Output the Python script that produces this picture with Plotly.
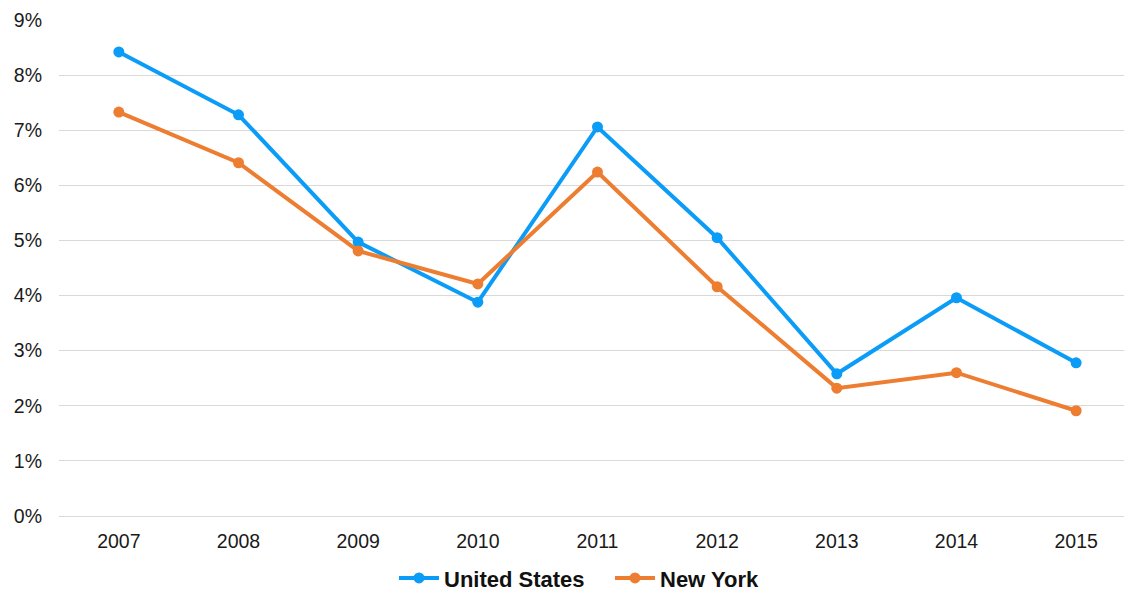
import plotly.graph_objects as go

years = ["2007", "2008", "2009", "2010", "2011", "2012", "2013", "2014", "2015"]
us = [8.42, 7.28, 4.97, 3.88, 7.06, 5.05, 2.58, 3.96, 2.78]
ny = [7.33, 6.41, 4.81, 4.21, 6.24, 4.16, 2.32, 2.60, 1.91]
y_ticks = [0, 1, 2, 3, 4, 5, 6, 7, 8, 9]
y_labels = [f"{v}%" for v in y_ticks]

fig = go.Figure()
fig.add_trace(go.Scatter(x=years, y=us, name="United States", mode="lines+markers",
                         line=dict(color="#0A9CF7", width=4), marker=dict(size=11, color="#0A9CF7"),
                         legend="legend"))
fig.add_trace(go.Scatter(x=years, y=ny, name="New York", mode="lines+markers",
                         line=dict(color="#ED7D31", width=4), marker=dict(size=11, color="#ED7D31"),
                         legend="legend2"))

legend_font = dict(size=22, family="Liberation Sans, Arial", weight="bold", color="#111111")

fig.update_layout(
    width=1124, height=590,
    margin=dict(l=59, r=0, t=20, b=74, autoexpand=False),
    plot_bgcolor="white", paper_bgcolor="white",
    font=dict(family="Liberation Sans, Arial", size=19.5, color="#1A1A1A"),
    xaxis=dict(type="category", range=[-0.5, 8.4], showgrid=False, showline=False,
               ticks="", ticklabelstandoff=11, automargin=False),
    yaxis=dict(range=[0, 9], tickvals=y_ticks, ticktext=y_labels, showgrid=True,
               gridcolor="#D9D9D9", gridwidth=1.3, zeroline=True, zerolinecolor="#D9D9D9",
               zerolinewidth=1.3, showline=False, ticks="", ticklabelstandoff=16,
               automargin=False),
    legend=dict(orientation="h", xref="paper", x=(404 - 59 - 10) / 1065, xanchor="left",
                y=-0.083, yanchor="top", font=legend_font, itemwidth=40),
    legend2=dict(orientation="h", xref="paper", x=(620 - 59 - 10) / 1065, xanchor="left",
                 y=-0.083, yanchor="top", font=legend_font, itemwidth=40),
    showlegend=True,
)

fig.write_html(
    "out.html",
    config={"displayModeBar": False},
    post_script="document.body.style.margin='0';document.body.style.overflow='hidden';",
)
